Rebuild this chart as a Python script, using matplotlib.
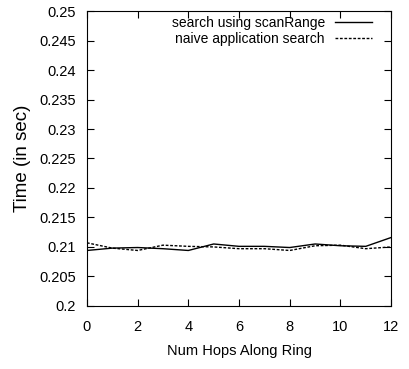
import numpy as np
from matplotlib import pyplot as plt

plt.rcParams['font.family'] = ['Liberation Sans', 'DejaVu Sans']
plt.rcParams['font.size'] = 10

hops = [0, 1, 2, 3, 4, 5, 6, 7, 8, 9, 10, 11, 12]
scan_range = [0.2094, 0.2098, 0.2099, 0.2097, 0.2094, 0.2105, 0.2101,
              0.2101, 0.2099, 0.2105, 0.2102, 0.2101, 0.2116]
naive = [0.2107, 0.2098, 0.2094, 0.2103, 0.2101, 0.2100, 0.2097,
         0.2097, 0.2094, 0.2102, 0.2103, 0.2097, 0.2100]

fig = plt.figure(figsize=(4.10, 3.69), dpi=100)
ax = fig.add_axes([0.212, 0.171, 0.742, 0.799])

ax.plot(hops, scan_range, color='black', lw=1.0, label='search using scanRange')
ax.plot(hops, naive, color='black', lw=1.0, linestyle=(0, (2, 1.2)),
        label='naive application search')

ax.set_xlim(0, 12)
ax.set_ylim(0.2, 0.25)
ax.set_xticks(np.arange(0, 13, 2))
ax.set_yticks(np.arange(0.2, 0.2501, 0.005))
ax.set_yticklabels(['0.2', '0.205', '0.21', '0.215', '0.22', '0.225',
                    '0.23', '0.235', '0.24', '0.245', '0.25'])
ax.tick_params(direction='in', top=True, right=True, length=5, width=0.8)
ax.tick_params(axis='x', pad=10, labelsize=10.5)
ax.tick_params(axis='y', pad=8, labelsize=10.5)
for s in ax.spines.values():
    s.set_linewidth(0.8)

ax.set_xlabel('Num Hops Along Ring', labelpad=7, fontsize=10.5)
ax.set_ylabel('Time (in sec)', labelpad=6, fontsize=13.5)

ax.legend(loc='upper right', bbox_to_anchor=(0.9375, 0.983), frameon=False,
          markerfirst=False, handlelength=2.7, handletextpad=0.7,
          labelspacing=0.15, borderaxespad=0, borderpad=0)

fig.savefig('out.png', dpi=100)
